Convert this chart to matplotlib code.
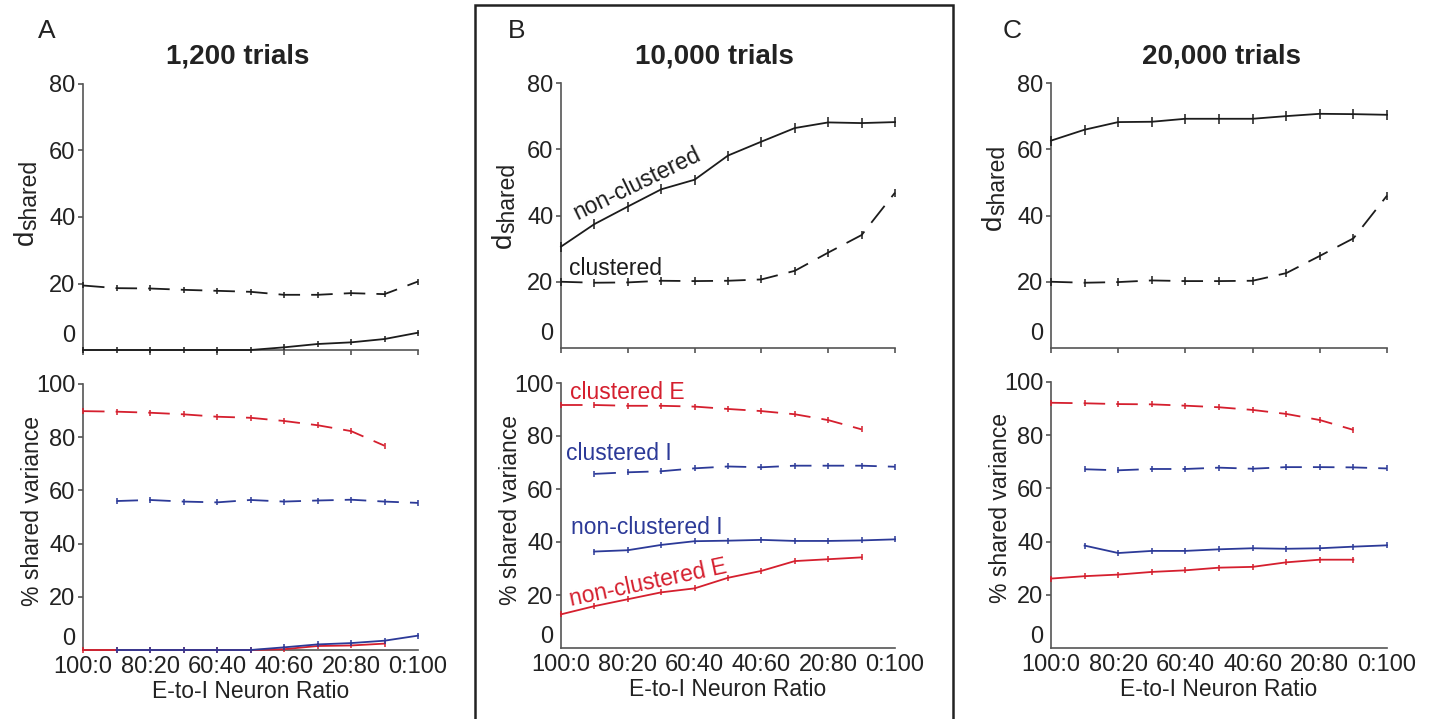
import matplotlib
matplotlib.use("Agg")
import matplotlib.pyplot as plt
from matplotlib.patches import Rectangle

plt.rcParams['font.family'] = ['Liberation Sans', 'DejaVu Sans']
plt.rcParams['lines.scale_dashes'] = False

# ---------------- data ----------------
x = list(range(11))  # 100:0, 90:10, ..., 0:100
xtick_pos = [0, 2, 4, 6, 8, 10]
xtick_labels = ['100:0', '80:20', '60:40', '40:60', '20:80', '0:100']
x_E = list(range(0, 10))   # E-neuron series end at 10:90
x_I = list(range(1, 11))   # I-neuron series start at 90:10

titles = ['1,200 trials', '10,000 trials', '20,000 trials']
letters = ['A', 'B', 'C']

# d_shared
A_nonclust = [0, 0, 0, 0, 0, 0, 0.8, 1.8, 2.3, 3.3, 5.2]
A_clust = [19.4, 18.6, 18.5, 18.1, 17.8, 17.5, 16.6, 16.6, 17.1, 16.8, 20.6]
B_nonclust = [30.6, 37.4, 42.7, 47.9, 50.8, 58.1, 62.3, 66.4, 68.1, 67.9, 68.2]
B_clust = [20.0, 19.7, 19.8, 20.3, 20.2, 20.3, 20.7, 23.3, 28.8, 34.1, 46.9]
C_nonclust = [62.6, 65.9, 68.2, 68.3, 69.2, 69.2, 69.2, 70.0, 70.7, 70.6, 70.4]
C_clust = [20.0, 19.7, 19.9, 20.4, 20.2, 20.2, 20.3, 22.6, 27.8, 33.1, 46.0]

# % shared variance
A_clustE = [89.8, 89.6, 89.2, 88.6, 87.7, 87.3, 86.1, 84.5, 82.3, 76.8]
A_clustI = [56.0, 56.4, 55.8, 55.5, 56.4, 55.8, 56.2, 56.5, 55.8, 55.3]
A_nonclustE = [0, 0, 0, 0, 0, 0, 0.3, 1.5, 1.7, 2.4]
A_nonclustI = [0, 0, 0, 0, 0, 1.0, 2.1, 2.6, 3.5, 5.4]

B_clustE = [91.7, 91.7, 91.4, 91.4, 91.1, 90.2, 89.4, 88.2, 86.0, 82.5]
B_clustI = [65.7, 66.3, 66.7, 67.8, 68.5, 68.2, 68.8, 68.8, 68.8, 68.4]
B_nonclustE = [12.7, 15.8, 18.4, 21.0, 22.5, 26.5, 29.1, 32.8, 33.5, 34.2]
B_nonclustI = [36.4, 36.9, 38.9, 40.3, 40.5, 40.8, 40.4, 40.4, 40.6, 41.0]

C_clustE = [92.2, 92.0, 91.7, 91.6, 91.1, 90.5, 89.5, 88.0, 85.7, 82.0]
C_clustI = [67.2, 66.8, 67.3, 67.3, 67.8, 67.4, 68.0, 68.0, 67.9, 67.5]
C_nonclustE = [26.1, 27.0, 27.6, 28.6, 29.2, 30.2, 30.5, 32.2, 33.2, 33.2]
C_nonclustI = [38.5, 35.7, 36.5, 36.5, 37.1, 37.5, 37.3, 37.5, 38.1, 38.6]

top_data = [(A_nonclust, A_clust), (B_nonclust, B_clust), (C_nonclust, C_clust)]
bot_data = [(A_clustE, A_clustI, A_nonclustE, A_nonclustI),
            (B_clustE, B_clustI, B_nonclustE, B_nonclustI),
            (C_clustE, C_clustI, C_nonclustE, C_nonclustI)]

# ---------------- style ----------------
RED = '#d51f2e'
BLUE = '#2c3a98'
BLACK = '#1c1c1c'
TXT = '#222222'
SPINE = '#555555'
DASH = (15.5, 8.0)
LW = 1.3

W, H = 1434, 719
fig = plt.figure(figsize=(W / 100, H / 100), dpi=100)


def fx(px):
    return px / W


def fy(py):
    return 1 - py / H


def px_axes(left, right, top, bottom):
    return fig.add_axes([left / W, 1 - bottom / H, (right - left) / W, (bottom - top) / H])


top_boxes = [(83, 418, 84, 350), (561, 895, 83, 348), (1051, 1387, 83, 348)]
bot_boxes = [(83, 418, 384, 650), (561, 895, 383, 648), (1051, 1387, 382, 648)]


def style_axes(ax, ymax, yticks, show_xlabels):
    ax.set_xlim(0, 10)
    ax.set_ylim(0, ymax)
    for s in ['top', 'right']:
        ax.spines[s].set_visible(False)
    for s in ['left', 'bottom']:
        ax.spines[s].set_color(SPINE)
        ax.spines[s].set_linewidth(1.2)
    ax.set_yticks(yticks)
    ax.set_yticklabels([str(v) for v in yticks])
    ax.set_yticks([5], labels=['0'], minor=True)
    ax.tick_params(axis='y', which='major', direction='out', length=3.5, width=1.2,
                   color=SPINE, labelsize=17, pad=2, labelcolor=TXT)
    ax.tick_params(axis='y', which='minor', length=0, labelsize=17, pad=5.5,
                   labelcolor=TXT)
    ax.set_xticks(xtick_pos)
    if show_xlabels:
        ax.set_xticklabels(xtick_labels)
        ax.tick_params(axis='x', direction='out', length=0, labelsize=17, pad=4,
                       labelcolor=TXT)
        ax.set_xlabel('E-to-I Neuron Ratio', fontsize=16.5, color=TXT, labelpad=2)
    else:
        ax.set_xticklabels([])
        ax.tick_params(axis='x', direction='out', length=3.5, width=1.2, color=SPINE)


def plot_series(ax, xs, ys, color, dashed, ms=5):
    kw = dict(color=color, lw=LW, marker='|', markersize=ms, markeredgewidth=1.1,
              clip_on=False, zorder=3)
    line, = ax.plot(xs, ys, **kw)
    if dashed:
        line.set_dashes(DASH)
    return line


# label placement (pixel positions)
title_x = [238, 714, 1222]
d_start_y = [245, 248, 230]
pct_center_y = [511, 510, 508]

for i in range(3):
    left = top_boxes[i][0]
    # top panel: d_shared
    ax = px_axes(*top_boxes[i])
    style_axes(ax, 80, [20, 40, 60, 80], False)
    nonc, clu = top_data[i]
    plot_series(ax, x, nonc, BLACK, False, ms=4 if i == 0 else 7)
    plot_series(ax, x, clu, BLACK, True, ms=4 if i == 0 else 6)

    # y-label "d" with large subscript "shared"
    fig.text(fx(left - 50), fy(d_start_y[i]), 'd', rotation=90, rotation_mode='anchor',
             ha='left', va='baseline', fontsize=20, color=TXT)
    fig.text(fx(left - 47), fy(d_start_y[i] - 15), 'shared', rotation=90,
             rotation_mode='anchor', ha='left', va='baseline', fontsize=16.5, color=TXT)

    fig.text(fx(title_x[i]), fy(63), titles[i], fontsize=20, fontweight='bold',
             color=TXT, ha='center', va='baseline')

    # bottom panel: % shared variance
    bx = px_axes(*bot_boxes[i])
    style_axes(bx, 100, [20, 40, 60, 80, 100], True)
    cE, cI, nE, nI = bot_data[i]
    plot_series(bx, x_E, cE, RED, True)
    plot_series(bx, x_I, cI, BLUE, True)
    plot_series(bx, x_E, nE, RED, False)
    plot_series(bx, x_I, nI, BLUE, False)
    fig.text(fx(left - 44), fy(pct_center_y[i]), '% shared variance', rotation=90,
             rotation_mode='anchor', ha='center', va='baseline', fontsize=16.5, color=TXT)

    if i == 1:
        fs = 16.5
        fig.text(fx(637), fy(184), 'non-clustered', rotation=26, fontsize=fs,
                 color=BLACK, ha='center', va='center', rotation_mode='anchor')
        fig.text(fx(616), fy(268), 'clustered', fontsize=fs, color=BLACK,
                 ha='center', va='center')
        fig.text(fx(627), fy(392), 'clustered E', fontsize=fs, color=RED,
                 ha='center', va='center')
        fig.text(fx(619), fy(453), 'clustered I', fontsize=fs, color=BLUE,
                 ha='center', va='center')
        fig.text(fx(647), fy(527), 'non-clustered I', fontsize=fs, color=BLUE,
                 ha='center', va='center')
        fig.text(fx(648), fy(583), 'non-clustered E', rotation=12, fontsize=fs,
                 color=RED, ha='center', va='center', rotation_mode='anchor')

# panel letters
for lx, letter in zip([38, 508, 1003], letters):
    fig.text(fx(lx), fy(38), letter, fontsize=19, ha='left', va='baseline', color=TXT)

# box around panel B
fig.patches.append(Rectangle((fx(475), -0.05), (953 - 475) / W, 1.05 - 5 / H,
                             transform=fig.transFigure, fill=False,
                             edgecolor='#222222', linewidth=1.8))

fig.savefig('out.png', dpi=100)
